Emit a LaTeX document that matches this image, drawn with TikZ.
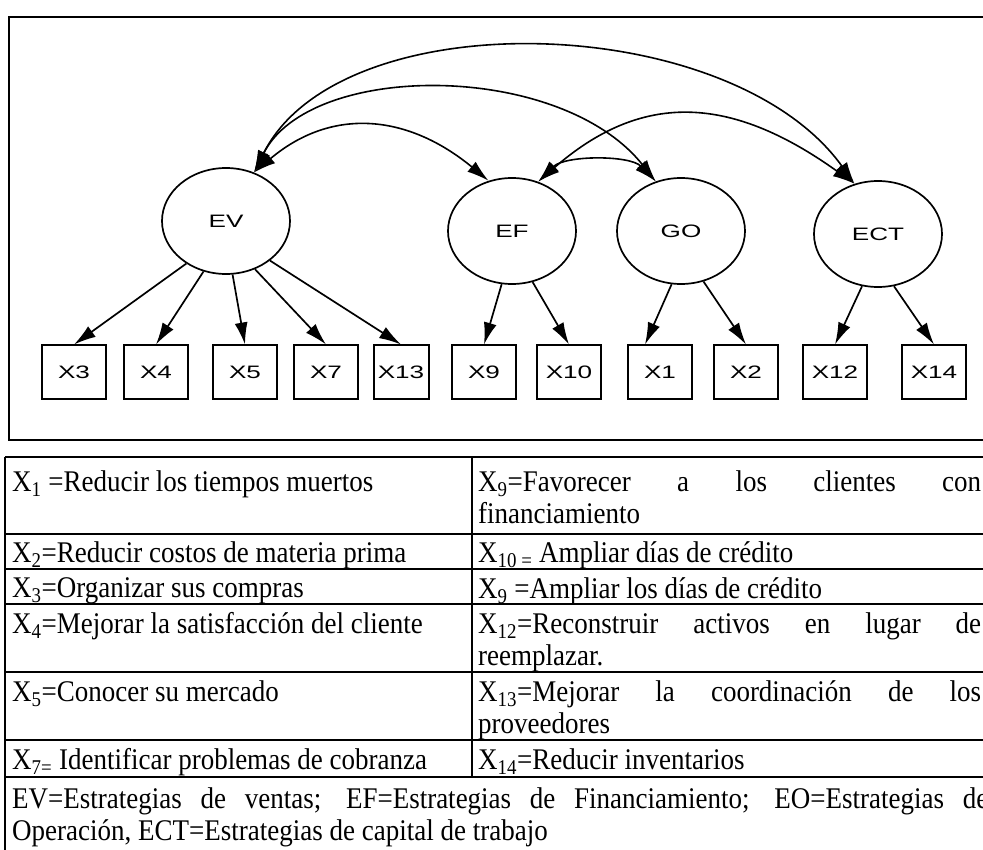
\documentclass[tikz,border=0pt]{standalone}
\usepackage{fontspec}
\setmainfont{Liberation Serif}[FakeStretch=0.9]
\setsansfont{Liberation Sans}[FakeStretch=1.45]
\usetikzlibrary{arrows.meta,shapes.geometric}

\hyphenpenalty=10000
\exhyphenpenalty=10000

\begin{document}
\begin{tikzpicture}[x=1pt,y=1pt,
    flecha/.style={line width=1.7pt,-{Latex[length=22pt,width=13pt]}},
    cov/.style={line width=1.6pt,{Latex[length=22pt,width=13pt]}-{Latex[length=22pt,width=13pt]}},
    latente/.style={ellipse,draw,line width=1.7pt,minimum width=128pt,minimum height=106pt,inner sep=0pt,font=\sffamily\fontsize{18}{20}\selectfont},
    caja/.style={rectangle,draw,line width=2pt,minimum width=64pt,minimum height=53pt,inner sep=0pt,font=\sffamily\fontsize{18}{20}\selectfont},
    celda/.style={anchor=north west,inner sep=0pt,align=justify,font=\fontsize{30}{32}\selectfont},
    linea/.style={line width=1.8pt}]
    \useasboundingbox (0,0) rectangle (983,-850);
    \clip (0,0) rectangle (983,-850);
    % diagrama
    \draw[line width=1.5pt] (1000,-17) -- (9,-17) -- (9,-440) -- (1000,-440);
    \node[latente] (EV) at (226,-221) {EV};
    \node[latente] (EF) at (512,-231) {EF};
    \node[latente] (GO) at (681,-231) {GO};
    \node[latente] (ECT) at (878,-234) {ECT};
    \foreach \n/\x in {X3/74,X4/156,X5/245,X7/326,X9/484,X10/569,X1/660,X2/746,X12/835,X14/934}
        \node[caja] (\n) at (\x,-372) {\n};
    \node[caja,minimum width=55pt] (X13) at (401,-372) {X13};
    \foreach \a/\b in {227/X3,246/X4,277/X5,301/X7,318/X13}
        \draw[flecha] (EV.\a) -- (\b.north);
    \draw[flecha] (EF.259) -- (X9.north);
    \draw[flecha] (EF.292) -- (X10.north);
    \draw[flecha] (GO.260) -- ([xshift=-15pt]X1.north);
    \draw[flecha] (GO.294) -- (X2.north);
    \draw[flecha] (ECT.253) -- (X12.north);
    \draw[flecha] (ECT.287) -- (X14.north);
    \draw[cov] (EV.60) .. controls (340,0) and (730,-10) .. (ECT.115);
    \draw[cov] (EV.60) .. controls (310,-61) and (560,-61) .. (GO.117);
    \draw[cov] (EV.60) .. controls (333,-106) and (409,-115) .. (EF.115);
    \draw[cov] (EF.62) .. controls (640,-93) and (728,-93) .. (ECT.115);
    \draw[cov] (EF.62) .. controls (565,-155) and (630,-155) .. (GO.117);
    % tabla
    \draw[linea] (5,-457) -- (5,-850);
    \draw[linea] (472,-457) -- (472,-777);
    \foreach \y in {457,534,569,604,672,740,777}
        \draw[linea] (5,-\y) -- (1000,-\y);
    \node[celda,text width=455pt] (a1) at (12,-470) {X\textsubscript{1} =Reducir los tiempos muertos};
    \node[celda,text width=455pt] (a2) at (12,-541) {X\textsubscript{2}=Reducir costos de materia prima};
    \node[celda,text width=455pt] (a3) at (12,-577) {X\textsubscript{3}=Organizar sus compras};
    \node[celda,text width=455pt] (a4) at (12,-612) {X\textsubscript{4}=Mejorar la satisfacción del cliente};
    \node[celda,text width=455pt] (a5) at (12,-680) {X\textsubscript{5}=Conocer su mercado};
    \node[celda,text width=455pt] (a6) at (12,-748) {X\textsubscript{7=} Identificar problemas de cobranza};
    \node[celda,text width=503pt] (b1) at (478,-470) {X\textsubscript{9}=Favorecer a los clientes con\linebreak financiamiento};
    \node[celda,text width=503pt] (b2) at (478,-541) {X\textsubscript{10 =} Ampliar días de crédito};
    \node[celda,text width=503pt] (b3) at (478,-577) {X\textsubscript{9} =Ampliar los días de crédito};
    \node[celda,text width=503pt] (b4) at (478,-612) {X\textsubscript{12}=Reconstruir activos en lugar de reemplazar.};
    \node[celda,text width=503pt] (b5) at (478,-680) {X\textsubscript{13}=Mejorar la coordinación de los proveedores};
    \node[celda,text width=503pt] (b6) at (478,-748) {X\textsubscript{14}=Reducir inventarios};
    \node[celda,text width=976pt] (nota) at (12,-787) {EV=Estrategias de ventas; EF=Estrategias de Financiamiento; EO=Estrategias de Operación, ECT=Estrategias de capital de trabajo};
\end{tikzpicture}
\end{document}
